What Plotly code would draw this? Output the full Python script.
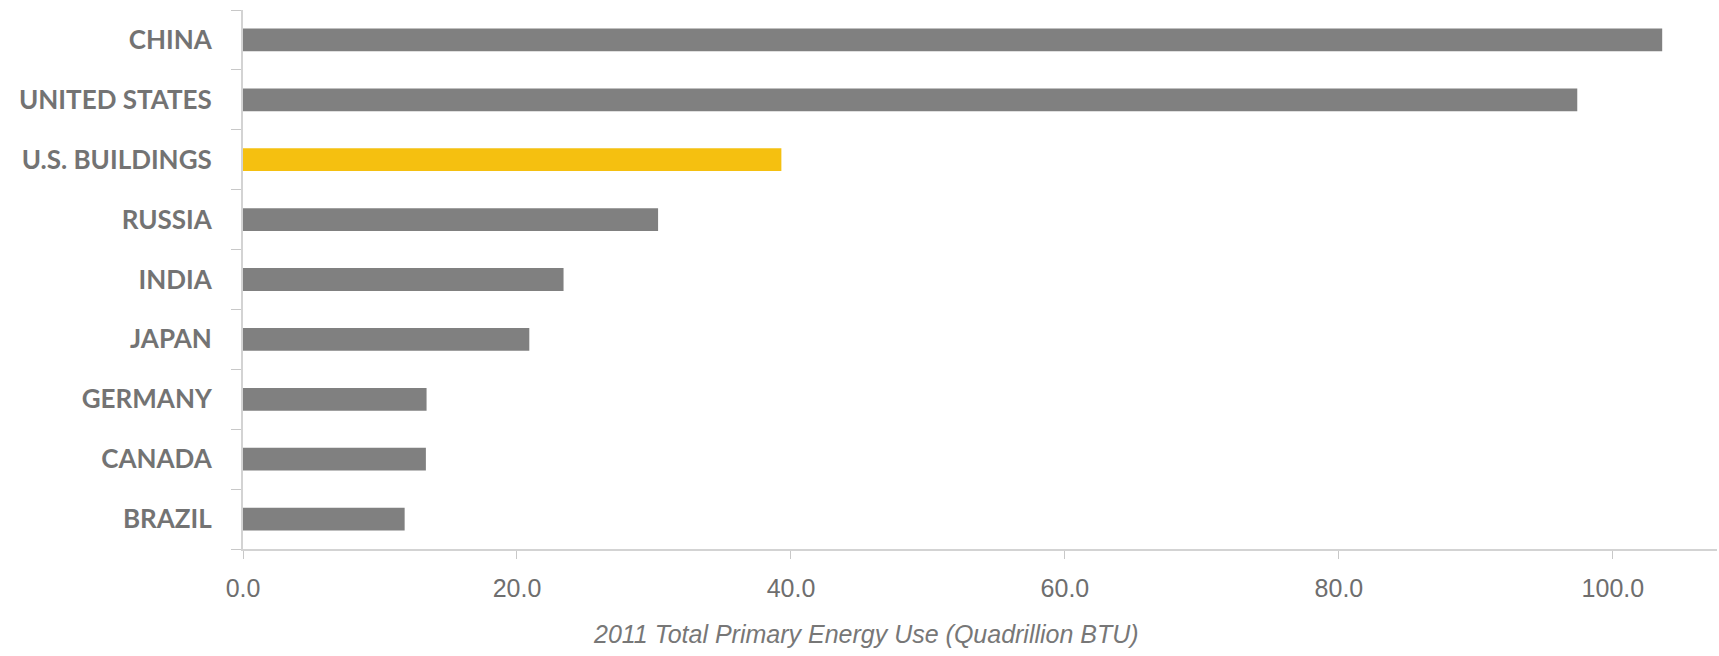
import plotly.graph_objects as go

categories = ["CHINA", "UNITED STATES", "U.S. BUILDINGS", "RUSSIA", "INDIA",
              "JAPAN", "GERMANY", "CANADA", "BRAZIL"]
values = [103.6, 97.4, 39.3, 30.3, 23.4, 20.9, 13.4, 13.35, 11.8]
highlight = "U.S. BUILDINGS"
tick_vals = [0, 20, 40, 60, 80, 100]
tick_text = ["0.0", "20.0", "40.0", "60.0", "80.0", "100.0"]
x_title = "2011 Total Primary Energy Use (Quadrillion BTU)"

colors = ["#F5C010" if c == highlight else "#808080" for c in categories]

fig = go.Figure(go.Bar(
    x=values, y=categories, orientation="h",
    marker=dict(color=colors, line=dict(width=0)),
    width=0.38,
))

fig.update_layout(
    width=1719, height=656,
    margin=dict(l=243, r=2, t=10, b=107),
    paper_bgcolor="white", plot_bgcolor="white",
    showlegend=False,
    xaxis=dict(
        range=[0, 107.6], tickvals=tick_vals, ticktext=tick_text,
        showgrid=False, zeroline=False,
        showline=True, linecolor="#d3d3d3", linewidth=2,
        ticks="outside", ticklen=8, tickcolor="#c8c8c8", tickwidth=1,
        tickfont=dict(family="Liberation Sans Narrow, Arial Narrow, Liberation Sans", size=25, color="#6e6e6e"),
        ticklabelstandoff=8,
    ),
    yaxis=dict(
        categoryorder="array", categoryarray=categories[::-1],
        autorange=False, range=[-0.5, len(categories) - 0.5],
        showgrid=False, zeroline=False,
        showline=True, linecolor="#d3d3d3", linewidth=2,
        ticks="outside", ticklen=10, tickcolor="#c8c8c8", tickwidth=1,
        tickson="boundaries",
        tickfont=dict(family="Lato", size=26, color="#737373", weight="bold"),
        ticklabelstandoff=24,
    ),
    annotations=[dict(
        text=x_title, xref="paper", yref="paper",
        x=(866 - 243) / (1719 - 243 - 2), y=-0.158, xanchor="center", yanchor="middle",
        showarrow=False,
        font=dict(family="Liberation Sans", size=25, color="#777777", style="italic"),
    )],
)

fig.write_html("out.html")
